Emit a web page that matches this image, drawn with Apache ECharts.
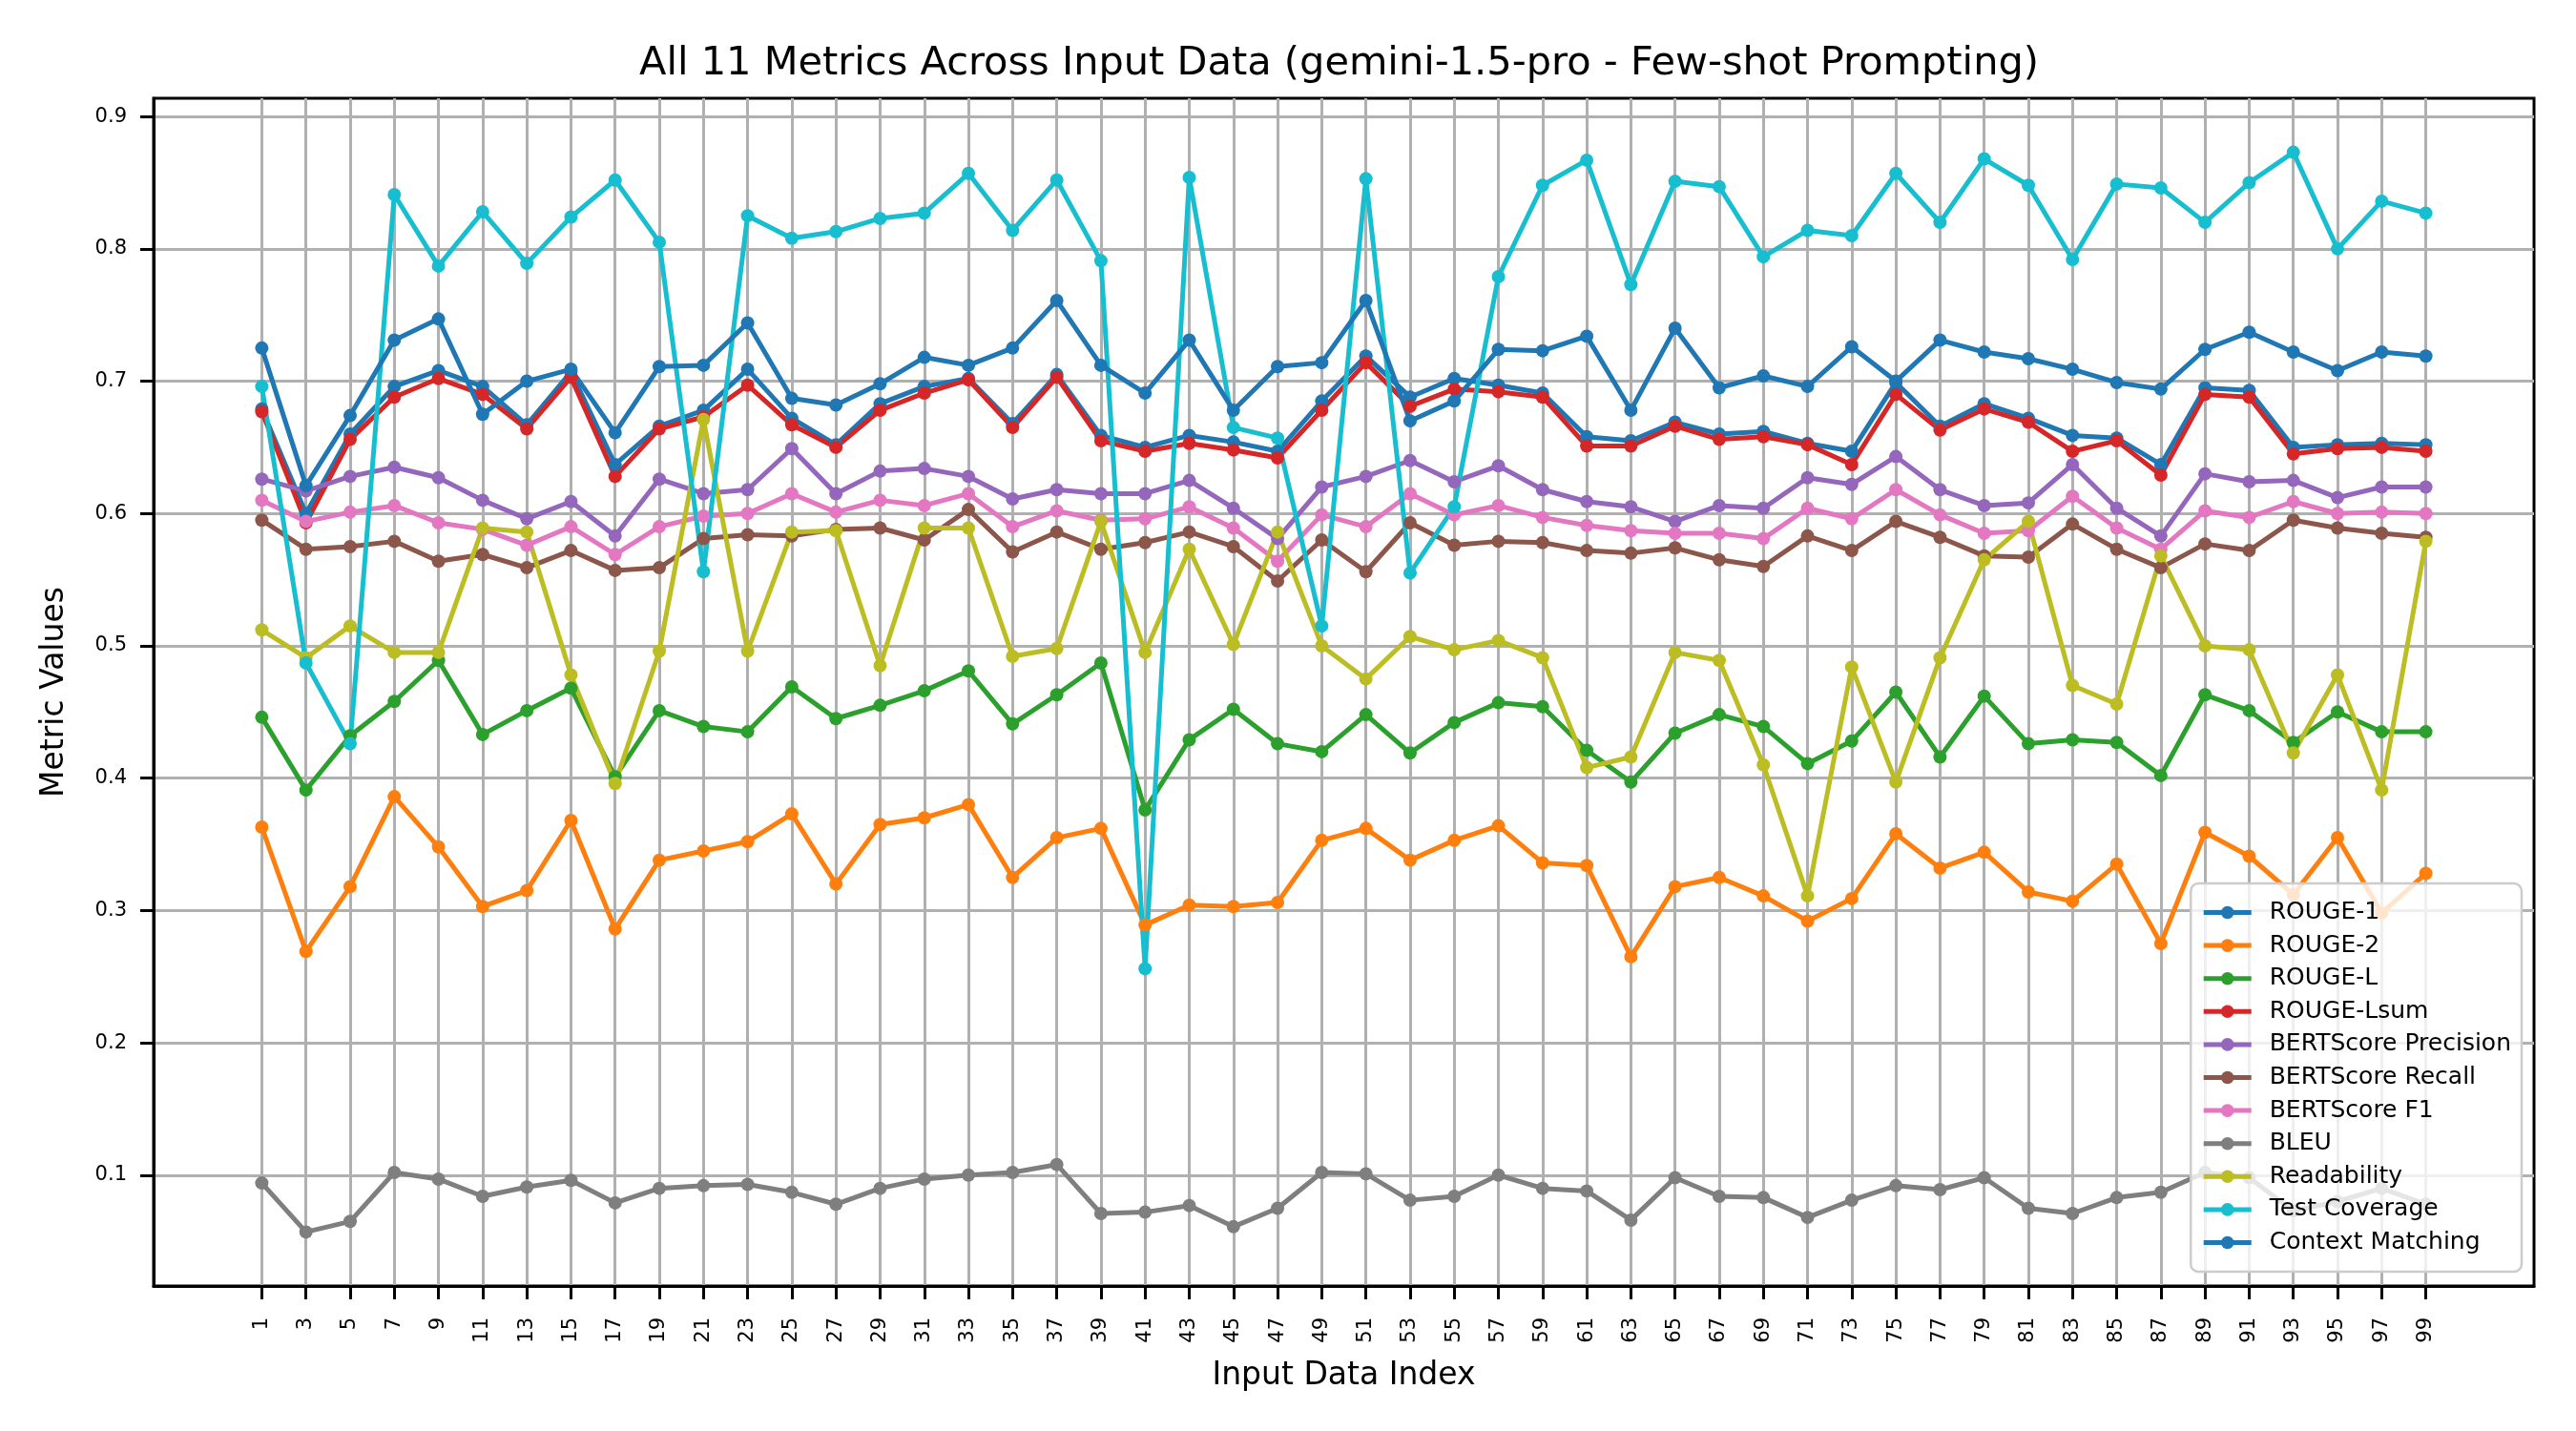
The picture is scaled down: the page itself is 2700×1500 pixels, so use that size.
<!DOCTYPE html>
<html>
<head>
    <meta charset="UTF-8">
    <title>All 11 Metrics Across Input Data</title>
    <script src="https://cdn.jsdelivr.net/npm/echarts@6.0.0/dist/echarts.min.js"></script>
    <style>
        html, body { margin: 0; padding: 0; background: #fff; }
        #chart { width: 2700px; height: 1500px; }
    </style>
</head>
<body>
<div id="chart"></div>
<script type="text/javascript">
    // input data index (x axis ticks)
    var xIndex = [1, 3, 5, 7, 9, 11, 13, 15, 17, 19, 21, 23, 25, 27, 29, 31, 33, 35, 37, 39,
        41, 43, 45, 47, 49, 51, 53, 55, 57, 59, 61, 63, 65, 67, 69, 71, 73, 75, 77, 79,
        81, 83, 85, 87, 89, 91, 93, 95, 97, 99];

    var yTicks = [0.1, 0.2, 0.3, 0.4, 0.5, 0.6, 0.7, 0.8, 0.9];

    var metricNames = ['ROUGE-1', 'ROUGE-2', 'ROUGE-L', 'ROUGE-Lsum', 'BERTScore Precision',
        'BERTScore Recall', 'BERTScore F1', 'BLEU', 'Readability', 'Test Coverage', 'Context Matching'];

    var rouge1 = [0.679, 0.600, 0.660, 0.696, 0.708, 0.696, 0.667, 0.707, 0.637, 0.666,
        0.678, 0.709, 0.672, 0.652, 0.683, 0.696, 0.702, 0.668, 0.705, 0.659,
        0.650, 0.659, 0.654, 0.647, 0.685, 0.719, 0.688, 0.702, 0.697, 0.691,
        0.658, 0.655, 0.669, 0.660, 0.662, 0.653, 0.647, 0.699, 0.666, 0.683,
        0.672, 0.659, 0.657, 0.637, 0.695, 0.693, 0.650, 0.652, 0.653, 0.652];

    var rouge2 = [0.363, 0.269, 0.318, 0.386, 0.348, 0.303, 0.315, 0.368, 0.286, 0.338,
        0.345, 0.352, 0.373, 0.320, 0.365, 0.370, 0.380, 0.325, 0.355, 0.362,
        0.289, 0.304, 0.303, 0.306, 0.353, 0.362, 0.338, 0.353, 0.364, 0.336,
        0.334, 0.265, 0.318, 0.325, 0.311, 0.292, 0.309, 0.358, 0.332, 0.344,
        0.314, 0.307, 0.335, 0.275, 0.359, 0.341, 0.312, 0.355, 0.298, 0.328];

    var rougeL = [0.446, 0.391, 0.432, 0.458, 0.489, 0.433, 0.451, 0.468, 0.401, 0.451,
        0.439, 0.435, 0.469, 0.445, 0.455, 0.466, 0.481, 0.441, 0.463, 0.487,
        0.376, 0.429, 0.452, 0.426, 0.420, 0.448, 0.419, 0.442, 0.457, 0.454,
        0.421, 0.397, 0.434, 0.448, 0.439, 0.411, 0.428, 0.465, 0.416, 0.462,
        0.426, 0.429, 0.427, 0.402, 0.463, 0.451, 0.427, 0.450, 0.435, 0.435];

    var rougeLsum = [0.677, 0.593, 0.656, 0.688, 0.702, 0.690, 0.664, 0.703, 0.628, 0.664,
        0.673, 0.697, 0.667, 0.650, 0.678, 0.691, 0.701, 0.665, 0.703, 0.655,
        0.647, 0.653, 0.648, 0.642, 0.678, 0.714, 0.681, 0.694, 0.692, 0.688,
        0.651, 0.651, 0.666, 0.656, 0.658, 0.652, 0.637, 0.690, 0.663, 0.679,
        0.669, 0.647, 0.655, 0.629, 0.690, 0.688, 0.645, 0.649, 0.650, 0.647];

    var bertPrecision = [0.626, 0.617, 0.628, 0.635, 0.627, 0.610, 0.596, 0.609, 0.583, 0.626,
        0.615, 0.618, 0.649, 0.615, 0.632, 0.634, 0.628, 0.611, 0.618, 0.615,
        0.615, 0.625, 0.604, 0.581, 0.620, 0.628, 0.640, 0.624, 0.636, 0.618,
        0.609, 0.605, 0.594, 0.606, 0.604, 0.627, 0.622, 0.643, 0.618, 0.606,
        0.608, 0.637, 0.604, 0.583, 0.630, 0.624, 0.625, 0.612, 0.620, 0.620];

    var bertRecall = [0.595, 0.573, 0.575, 0.579, 0.564, 0.569, 0.559, 0.572, 0.557, 0.559,
        0.581, 0.584, 0.583, 0.588, 0.589, 0.580, 0.603, 0.571, 0.586, 0.573,
        0.578, 0.586, 0.575, 0.549, 0.580, 0.556, 0.593, 0.576, 0.579, 0.578,
        0.572, 0.570, 0.574, 0.565, 0.560, 0.583, 0.572, 0.594, 0.582, 0.568,
        0.567, 0.592, 0.573, 0.559, 0.577, 0.572, 0.595, 0.589, 0.585, 0.582];

    var bertF1 = [0.610, 0.594, 0.601, 0.606, 0.593, 0.588, 0.576, 0.590, 0.569, 0.590,
        0.598, 0.600, 0.615, 0.601, 0.610, 0.606, 0.615, 0.590, 0.602, 0.595,
        0.596, 0.605, 0.589, 0.564, 0.599, 0.590, 0.615, 0.599, 0.606, 0.597,
        0.591, 0.587, 0.585, 0.585, 0.581, 0.604, 0.596, 0.618, 0.599, 0.585,
        0.587, 0.613, 0.589, 0.573, 0.602, 0.597, 0.609, 0.600, 0.601, 0.600];

    var bleu = [0.094, 0.057, 0.065, 0.102, 0.097, 0.084, 0.091, 0.096, 0.079, 0.090,
        0.092, 0.093, 0.087, 0.078, 0.090, 0.097, 0.100, 0.102, 0.108, 0.071,
        0.072, 0.077, 0.061, 0.075, 0.102, 0.101, 0.081, 0.084, 0.100, 0.090,
        0.088, 0.066, 0.098, 0.084, 0.083, 0.068, 0.081, 0.092, 0.089, 0.098,
        0.075, 0.071, 0.083, 0.087, 0.102, 0.098, 0.073, 0.080, 0.090, 0.078];

    var readability = [0.512, 0.491, 0.515, 0.495, 0.495, 0.589, 0.586, 0.478, 0.396, 0.496,
        0.671, 0.496, 0.586, 0.587, 0.485, 0.589, 0.589, 0.492, 0.498, 0.594,
        0.495, 0.573, 0.501, 0.586, 0.500, 0.475, 0.507, 0.497, 0.504, 0.491,
        0.408, 0.416, 0.495, 0.489, 0.410, 0.311, 0.484, 0.397, 0.491, 0.565,
        0.594, 0.470, 0.456, 0.568, 0.500, 0.497, 0.419, 0.478, 0.391, 0.579];

    var testCoverage = [0.696, 0.487, 0.426, 0.841, 0.787, 0.828, 0.789, 0.824, 0.852, 0.805,
        0.556, 0.825, 0.808, 0.813, 0.823, 0.827, 0.857, 0.814, 0.852, 0.791,
        0.256, 0.854, 0.665, 0.657, 0.515, 0.853, 0.555, 0.605, 0.779, 0.848,
        0.867, 0.773, 0.851, 0.847, 0.794, 0.814, 0.810, 0.857, 0.820, 0.868,
        0.848, 0.792, 0.849, 0.846, 0.820, 0.850, 0.873, 0.800, 0.836, 0.827];

    var contextMatching = [0.725, 0.621, 0.674, 0.731, 0.747, 0.675, 0.700, 0.709, 0.661, 0.711,
        0.712, 0.744, 0.687, 0.682, 0.698, 0.718, 0.712, 0.725, 0.761, 0.712,
        0.691, 0.731, 0.678, 0.711, 0.714, 0.761, 0.670, 0.685, 0.724, 0.723,
        0.734, 0.678, 0.740, 0.695, 0.704, 0.696, 0.726, 0.700, 0.731, 0.722,
        0.717, 0.709, 0.699, 0.694, 0.724, 0.737, 0.722, 0.708, 0.722, 0.719];

    var metricValues = [rouge1, rouge2, rougeL, rougeLsum, bertPrecision, bertRecall,
        bertF1, bleu, readability, testCoverage, contextMatching];

    // matplotlib tab10 cycle, 11th wraps round to the first colour
    var colors = ['#1f77b4', '#ff7f0e', '#2ca02c', '#d62728', '#9467bd', '#8c564b',
        '#e377c2', '#7f7f7f', '#bcbd22', '#17becf', '#1f77b4'];

    var FONT = 'DejaVu Sans';

    var seriesList = metricNames.map(function (name, k) {
        return {
            name: name,
            type: 'line',
            symbol: 'circle',
            symbolSize: 14,
            showSymbol: true,
            lineStyle: { width: 5, color: colors[k] },
            itemStyle: { color: colors[k] },
            data: xIndex.map(function (x, i) { return [x, metricValues[k][i]]; })
        };
    });

    var chart = echarts.init(document.getElementById('chart'), null, { renderer: 'canvas' });

    var option = {
        animation: false,
        backgroundColor: '#ffffff',
        textStyle: { fontFamily: FONT },
        title: {
            text: 'All 11 Metrics Across Input Data (gemini-1.5-pro - Few-shot Prompting)',
            left: 670,
            top: 46,
            padding: 0,
            textStyle: { fontFamily: FONT, fontSize: 41.5, fontWeight: 'normal', color: '#000' }
        },
        grid: {
            left: 161,
            right: 44,
            top: 103,
            bottom: 152,
            show: true,
            borderColor: '#000',
            borderWidth: 3,
            backgroundColor: 'transparent'
        },
        legend: {
            orient: 'vertical',
            right: 57,
            bottom: 167,
            padding: [18, 11],
            itemWidth: 50,
            itemHeight: 17,
            itemGap: 9.6,
            backgroundColor: 'rgba(255,255,255,0.8)',
            borderColor: '#cccccc',
            borderWidth: 2.5,
            borderRadius: 8,
            lineStyle: { width: 5 },
            textStyle: { fontFamily: FONT, fontSize: 25, color: '#000', padding: [0, 0, 0, 14] },
            data: metricNames
        },
        xAxis: {
            type: 'value',
            min: -3.9,
            max: 103.9,
            name: 'Input Data Index',
            nameLocation: 'middle',
            nameGap: 78,
            nameTextStyle: { fontFamily: FONT, fontSize: 33, color: '#000' },
            axisLine: { show: true, onZero: false, lineStyle: { color: '#000', width: 3 } },
            axisTick: { show: true, customValues: xIndex, length: 14, lineStyle: { color: '#000', width: 3 } },
            axisLabel: {
                customValues: xIndex,
                rotate: 90,
                margin: 33,
                fontFamily: FONT,
                fontSize: 21,
                color: '#000',
                formatter: function (v) { return String(v); }
            },
            splitLine: { show: true, lineStyle: { color: '#b0b0b0', width: 3 } }
        },
        yAxis: {
            type: 'value',
            min: 0.0162,
            max: 0.9138,
            name: 'Metric Values',
            nameLocation: 'middle',
            nameRotate: 90,
            nameGap: 87,
            nameTextStyle: { fontFamily: FONT, fontSize: 33, color: '#000' },
            axisLine: { show: true, onZero: false, lineStyle: { color: '#000', width: 3 } },
            axisTick: { show: true, customValues: yTicks, length: 14, lineStyle: { color: '#000', width: 3 } },
            axisLabel: {
                customValues: yTicks,
                margin: 28,
                fontFamily: FONT,
                fontSize: 21,
                color: '#000',
                formatter: function (v) { return v.toFixed(1); }
            },
            splitLine: { show: true, lineStyle: { color: '#b0b0b0', width: 3 } }
        },
        series: seriesList
    };

    option && chart.setOption(option);
</script>
</body>
</html>
